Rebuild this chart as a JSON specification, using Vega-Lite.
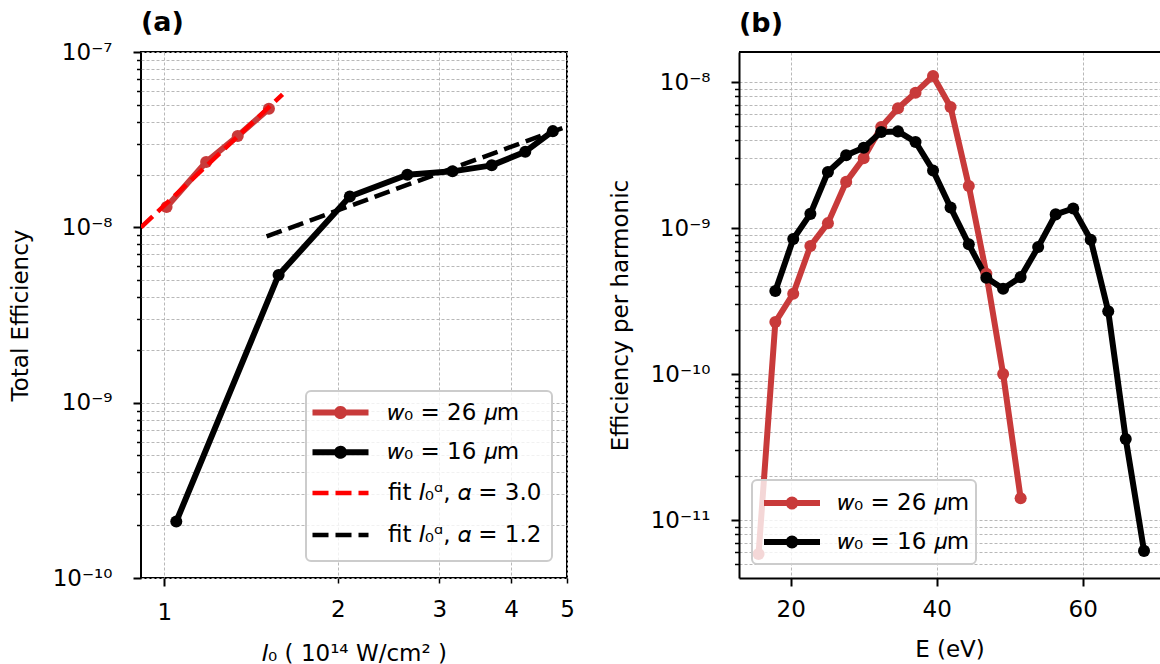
{
  "$schema": "https://vega.github.io/schema/vega-lite/v6.json",
  "background": "white",
  "padding": {"left": 8, "top": 8, "right": 0, "bottom": 0},
  "spacing": 172,
  "bounds": "flush",
  "resolve": {"scale": {"x": "independent", "y": "independent", "color": "independent"}, "legend": {"color": "independent"}},
  "config": {
    "font": "DejaVu Sans",
    "view": {"stroke": "black", "strokeWidth": 2},
    "axis": {"labelFont": "DejaVu Sans", "labelFontSize": 23, "labelColor": "black", "titleFont": "DejaVu Sans", "titleFontSize": 23, "titleFontWeight": "normal", "titleColor": "black", "domain": false, "tickColor": "black", "tickWidth": 2, "gridColor": "#b8b8b8", "gridDash": [3, 2], "gridWidth": 1, "labelOverlap": false, "labelFlush": false, "labelPadding": 8, "titlePadding": 10},
    "legend": {"labelFont": "DejaVu Sans", "labelFontSize": 23, "labelColor": "black", "labelLimit": 400, "fillColor": "rgba(255,255,255,0.8)", "strokeColor": "#cccccc", "cornerRadius": 5, "strokeWidth": 2, "symbolSize": 784},
    "title": {"font": "DejaVu Sans", "fontSize": 27, "fontWeight": "bold", "anchor": "start", "frame": "group", "color": "black", "baseline": "alphabetic"}
  },
  "datasets": {
    "a": [
      {"s": "w26", "k": "data", "I": 1.009, "eff": 1.305e-8},
      {"s": "w26", "k": "data", "I": 1.182, "eff": 2.357e-8},
      {"s": "w26", "k": "data", "I": 1.341, "eff": 3.317e-8},
      {"s": "w26", "k": "data", "I": 1.519, "eff": 4.75e-8},
      {"s": "w16", "k": "data", "I": 1.049, "eff": 2.10e-10},
      {"s": "w16", "k": "data", "I": 1.579, "eff": 5.35e-9},
      {"s": "w16", "k": "data", "I": 2.099, "eff": 1.498e-8},
      {"s": "w16", "k": "data", "I": 2.641, "eff": 1.995e-8},
      {"s": "w16", "k": "data", "I": 3.164, "eff": 2.086e-8},
      {"s": "w16", "k": "data", "I": 3.701, "eff": 2.257e-8},
      {"s": "w16", "k": "data", "I": 4.232, "eff": 2.70e-8},
      {"s": "w16", "k": "data", "I": 4.725, "eff": 3.537e-8},
      {"s": "f30", "k": "fit", "I": 0.911, "eff": 1.0e-8},
      {"s": "f30", "k": "fit", "I": 1.604, "eff": 5.74e-8},
      {"s": "f12", "k": "fit", "I": 1.505, "eff": 8.87e-9},
      {"s": "f12", "k": "fit", "I": 4.98, "eff": 3.75e-8}
    ],
    "b": [
      {"s": "w26", "E": 15.6, "eff": 5.85e-12},
      {"s": "w26", "E": 17.9, "eff": 2.27e-10},
      {"s": "w26", "E": 20.35, "eff": 3.55e-10},
      {"s": "w26", "E": 22.7, "eff": 7.53e-10},
      {"s": "w26", "E": 25.1, "eff": 1.08e-9},
      {"s": "w26", "E": 27.6, "eff": 2.07e-9},
      {"s": "w26", "E": 30.0, "eff": 3.01e-9},
      {"s": "w26", "E": 32.4, "eff": 4.92e-9},
      {"s": "w26", "E": 34.7, "eff": 6.60e-9},
      {"s": "w26", "E": 37.1, "eff": 8.45e-9},
      {"s": "w26", "E": 39.5, "eff": 1.10e-8},
      {"s": "w26", "E": 41.9, "eff": 6.74e-9},
      {"s": "w26", "E": 44.4, "eff": 1.94e-9},
      {"s": "w26", "E": 46.8, "eff": 4.86e-10},
      {"s": "w26", "E": 49.1, "eff": 1.0e-10},
      {"s": "w26", "E": 51.5, "eff": 1.41e-11},
      {"s": "w16", "E": 17.9, "eff": 3.70e-10},
      {"s": "w16", "E": 20.35, "eff": 8.41e-10},
      {"s": "w16", "E": 22.7, "eff": 1.25e-9},
      {"s": "w16", "E": 25.1, "eff": 2.42e-9},
      {"s": "w16", "E": 27.6, "eff": 3.15e-9},
      {"s": "w16", "E": 30.0, "eff": 3.55e-9},
      {"s": "w16", "E": 32.4, "eff": 4.55e-9},
      {"s": "w16", "E": 34.7, "eff": 4.59e-9},
      {"s": "w16", "E": 37.1, "eff": 3.88e-9},
      {"s": "w16", "E": 39.5, "eff": 2.48e-9},
      {"s": "w16", "E": 41.9, "eff": 1.38e-9},
      {"s": "w16", "E": 44.4, "eff": 7.73e-10},
      {"s": "w16", "E": 46.8, "eff": 4.57e-10},
      {"s": "w16", "E": 49.1, "eff": 3.84e-10},
      {"s": "w16", "E": 51.5, "eff": 4.61e-10},
      {"s": "w16", "E": 53.9, "eff": 7.41e-10},
      {"s": "w16", "E": 56.3, "eff": 1.24e-9},
      {"s": "w16", "E": 58.7, "eff": 1.36e-9},
      {"s": "w16", "E": 61.1, "eff": 8.32e-10},
      {"s": "w16", "E": 63.5, "eff": 2.69e-10},
      {"s": "w16", "E": 65.9, "eff": 3.59e-11},
      {"s": "w16", "E": 68.4, "eff": 6.15e-12}
    ]
  },
  "hconcat": [
    {
      "width": 426,
      "height": 526,
      "view": {"stroke": "black", "strokeWidth": 2},
      "title": {"text": "(a)", "offset": 4},
      "data": {"name": "a"},
      "encoding": {
        "x": {"field": "I", "type": "quantitative",
          "scale": {"type": "log", "domain": [0.911, 5.0], "nice": false},
          "axis": {"values": [1, 2, 3, 4, 5], "format": "d", "grid": true, "title": "𝐼₀ ( 10¹⁴ W/cm² )", "titleY": 82, "titleBaseline": "alphabetic", "labelPadding": 15,
            "tickSize": {"condition": {"test": "datum.value == 1", "value": 8}, "value": 5},
            "tickWidth": {"condition": {"test": "datum.value == 1", "value": 2}, "value": 1.5}}},
        "y": {"field": "eff", "type": "quantitative",
          "scale": {"type": "log", "domain": [1e-10, 1e-7], "nice": false},
          "axis": {"values": [1e-10, 2e-10, 3e-10, 4e-10, 5e-10, 6e-10, 7e-10, 8e-10, 9e-10, 1e-9, 2e-9, 3e-9, 4e-9, 5e-9, 6e-9, 7e-9, 8e-9, 9e-9, 1e-8, 2e-8, 3e-8, 4e-8, 5e-8, 6e-8, 7e-8, 8e-8, 9e-8, 1e-7],
            "grid": true, "title": "Total Efficiency", "titleX": -113.5, "titleY": 263, "titleBaseline": "alphabetic", "labelPadding": 21,
            "labelExpr": "abs(log(datum.value)/LN10 - round(log(datum.value)/LN10)) < 1e-6 ? '10' + (round(log(datum.value)/LN10) == -7 ? '⁻⁷' : round(log(datum.value)/LN10) == -8 ? '⁻⁸' : round(log(datum.value)/LN10) == -9 ? '⁻⁹' : round(log(datum.value)/LN10) == -10 ? '⁻¹⁰' : '⁻¹¹') : ''",
            "tickSize": {"condition": {"test": "abs(log(datum.value)/LN10 - round(log(datum.value)/LN10)) < 1e-6", "value": 8}, "value": 4.5},
            "tickWidth": {"condition": {"test": "abs(log(datum.value)/LN10 - round(log(datum.value)/LN10)) < 1e-6", "value": 2}, "value": 1.5}}},
        "color": {"field": "s", "type": "nominal",
          "scale": {"domain": ["w26", "w16", "f30", "f12"], "range": ["#c83a3a", "#000000", "#ff0000", "#000000"]},
          "legend": {"title": null, "orient": "none", "legendX": 165, "legendY": 339,
            "padding": 10, "rowPadding": 8.8, "symbolOffset": 13, "labelOffset": 36,
            "labelExpr": "datum.value == 'w26' ? '𝑤₀ = 26 𝜇m' : datum.value == 'w16' ? '𝑤₀ = 16 𝜇m' : datum.value == 'f30' ? 'fit 𝐼₀ᵅ, 𝛼 = 3.0' : 'fit 𝐼₀ᵅ, 𝛼 = 1.2'",
            "symbolType": {"expr": "(datum.value == 'f30' || datum.value == 'f12') ? 'M-2,0H2M0,-0.5L0,-0.5M0,0.5L0,0.5' : 'M-2,0H2M0.25,0A0.25,0.25,0,1,1,-0.25,0A0.25,0.25,0,1,1,0.25,0Z'"},
            "symbolDash": {"expr": "(datum.value == 'f30' || datum.value == 'f12') ? [16, 7] : [1, 0]"},
            "symbolFillColor": {"expr": "datum.value == 'w26' ? '#c83a3a' : datum.value == 'w16' ? '#000000' : 'transparent'"},
            "symbolStrokeWidth": {"expr": "(datum.value == 'f30' || datum.value == 'f12') ? 4.5 : 6"}}}
      },
      "layer": [
        {"transform": [{"filter": "datum.k == 'data'"}],
         "mark": {"type": "line", "strokeJoin": "round", "clip": true},
         "encoding": {"strokeWidth": {"value": 6}}},
        {"transform": [{"filter": "datum.k == 'data'"}],
         "mark": {"type": "point", "filled": true, "clip": true},
         "encoding": {"size": {"value": 145}, "opacity": {"value": 1}}},
        {"transform": [{"filter": "datum.k == 'fit'"}],
         "mark": {"type": "line", "clip": true},
         "encoding": {"strokeWidth": {"value": 4.5}, "strokeDash": {"value": [16, 7]}}}
      ]
    },
    {
      "width": 421,
      "height": 526,
      "view": {"stroke": null},
      "title": {"text": "(b)", "offset": 13},
      "layer": [
        {"data": {"name": "b"},
         "mark": {"type": "line", "strokeJoin": "round", "clip": true},
         "encoding": {
           "x": {"field": "E", "type": "quantitative",
             "scale": {"domain": [12.92, 70.59], "nice": false, "zero": false},
             "axis": {"values": [20, 40, 60], "grid": true, "title": "E (eV)", "titleY": 78, "titleBaseline": "alphabetic", "domain": true, "domainColor": "black", "domainWidth": 2, "tickSize": 8, "labelPadding": 12}},
           "y": {"field": "eff", "type": "quantitative",
             "scale": {"type": "log", "domain": [4.01e-12, 1.605e-8], "nice": false},
             "axis": {"values": [5e-12, 6e-12, 7e-12, 8e-12, 9e-12, 1e-11, 2e-11, 3e-11, 4e-11, 5e-11, 6e-11, 7e-11, 8e-11, 9e-11, 1e-10, 2e-10, 3e-10, 4e-10, 5e-10, 6e-10, 7e-10, 8e-10, 9e-10, 1e-9, 2e-9, 3e-9, 4e-9, 5e-9, 6e-9, 7e-9, 8e-9, 9e-9, 1e-8],
               "grid": true, "title": "Efficiency per harmonic", "titleX": -112, "titleY": 263, "titleBaseline": "alphabetic", "domain": true, "domainColor": "black", "domainWidth": 2, "labelPadding": 21,
               "labelExpr": "abs(log(datum.value)/LN10 - round(log(datum.value)/LN10)) < 1e-6 ? '10' + (round(log(datum.value)/LN10) == -7 ? '⁻⁷' : round(log(datum.value)/LN10) == -8 ? '⁻⁸' : round(log(datum.value)/LN10) == -9 ? '⁻⁹' : round(log(datum.value)/LN10) == -10 ? '⁻¹⁰' : '⁻¹¹') : ''",
               "tickSize": {"condition": {"test": "abs(log(datum.value)/LN10 - round(log(datum.value)/LN10)) < 1e-6", "value": 8}, "value": 4.5},
               "tickWidth": {"condition": {"test": "abs(log(datum.value)/LN10 - round(log(datum.value)/LN10)) < 1e-6", "value": 2}, "value": 1.5}}},
           "color": {"field": "s", "type": "nominal",
             "scale": {"domain": ["w26", "w16"], "range": ["#c83a3a", "#000000"]},
             "legend": {"title": null, "orient": "none", "legendX": 13, "legendY": 428,
               "padding": 6, "rowPadding": 6, "symbolOffset": 17, "labelOffset": 29,
               "labelExpr": "datum.value == 'w26' ? '𝑤₀ = 26 𝜇m' : '𝑤₀ = 16 𝜇m'",
               "symbolType": "M-2,0H2M0.25,0A0.25,0.25,0,1,1,-0.25,0A0.25,0.25,0,1,1,0.25,0Z",
               "symbolFillColor": {"expr": "datum.value == 'w26' ? '#c83a3a' : '#000000'"},
               "symbolStrokeWidth": 6}},
           "strokeWidth": {"value": 6}}},
        {"data": {"name": "b"},
         "mark": {"type": "point", "filled": true, "clip": true},
         "encoding": {
           "x": {"field": "E", "type": "quantitative"},
           "y": {"field": "eff", "type": "quantitative"},
           "color": {"field": "s", "type": "nominal"},
           "size": {"value": 145}, "opacity": {"value": 1}}},
        {"data": {"values": [{"top": 1.605e-8}]},
         "mark": {"type": "rule"},
         "encoding": {
           "y": {"field": "top", "type": "quantitative"},
           "color": {"value": "#000000"}, "strokeWidth": {"value": 2}}}
      ]
    }
  ]
}
